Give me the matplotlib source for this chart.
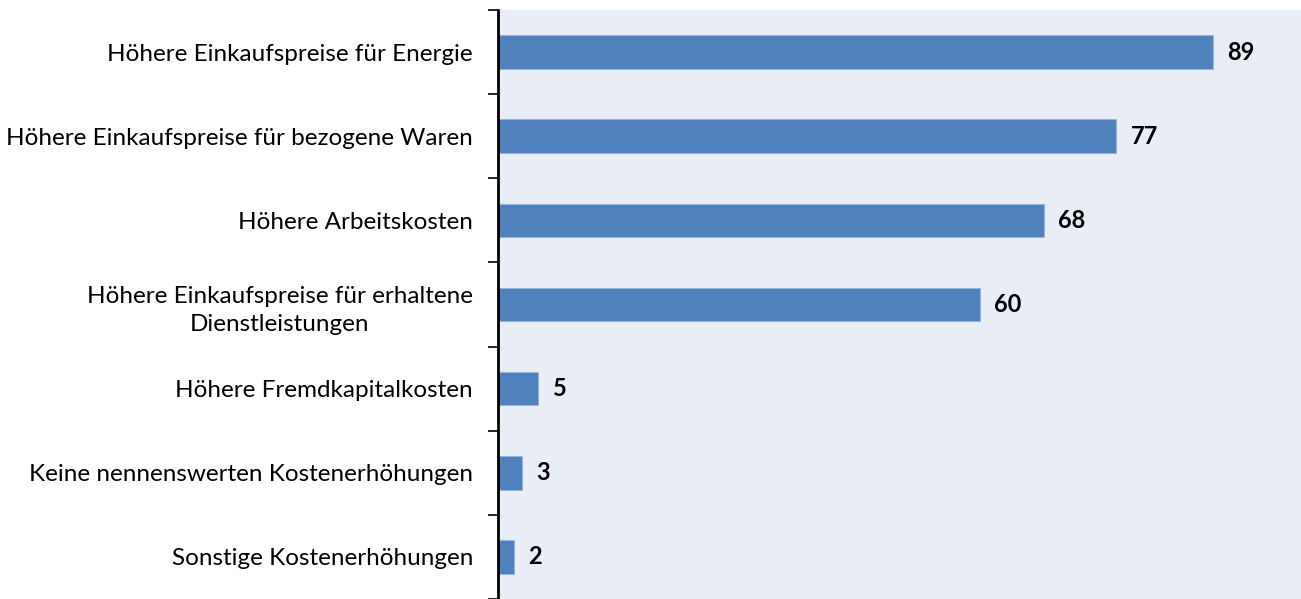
import numpy as np
import matplotlib.pyplot as plt

categories = [
    "Höhere Einkaufspreise für Energie",
    "Höhere Einkaufspreise für bezogene Waren",
    "Höhere Arbeitskosten",
    "Höhere Einkaufspreise für erhaltene\nDienstleistungen",
    "Höhere Fremdkapitalkosten",
    "Keine nennenswerten Kostenerhöhungen",
    "Sonstige Kostenerhöhungen",
]
values = [89, 77, 68, 60, 5, 3, 2]

plt.rcParams['font.family'] = ['Lato', 'DejaVu Sans']

fig = plt.figure(figsize=(13.01, 5.99), dpi=100)
ax = fig.add_axes([498 / 1301, 0, 803 / 1301, 589 / 599])
ax.set_facecolor('#E9EDF5')

y = np.arange(len(categories))
ax.barh(y, values, height=0.4, color='#4F81BD', edgecolor='#9AB5DA', linewidth=0.8)

for yi, v in zip(y, values):
    ax.text(v + 1.8, yi, str(v), va='center', ha='left',
            fontsize=17, fontweight='bold', color='black')

ax.set_xlim(0, 100)
ax.set_ylim(len(categories) - 0.5, -0.5)
ax.set_xticks([])

ax.set_yticks(y)
ax.set_yticklabels(categories, fontsize=17.5, multialignment='center', linespacing=1.45)
ax.tick_params(axis='y', which='major', length=0, pad=18)
ax.set_yticks(np.arange(-0.5, len(categories), 1), minor=True)
ax.tick_params(axis='y', which='minor', length=7, width=1.2, direction='out')

for side in ['top', 'right', 'bottom']:
    ax.spines[side].set_visible(False)
ax.spines['left'].set_linewidth(2)

fig.savefig('out.png', dpi=100)
